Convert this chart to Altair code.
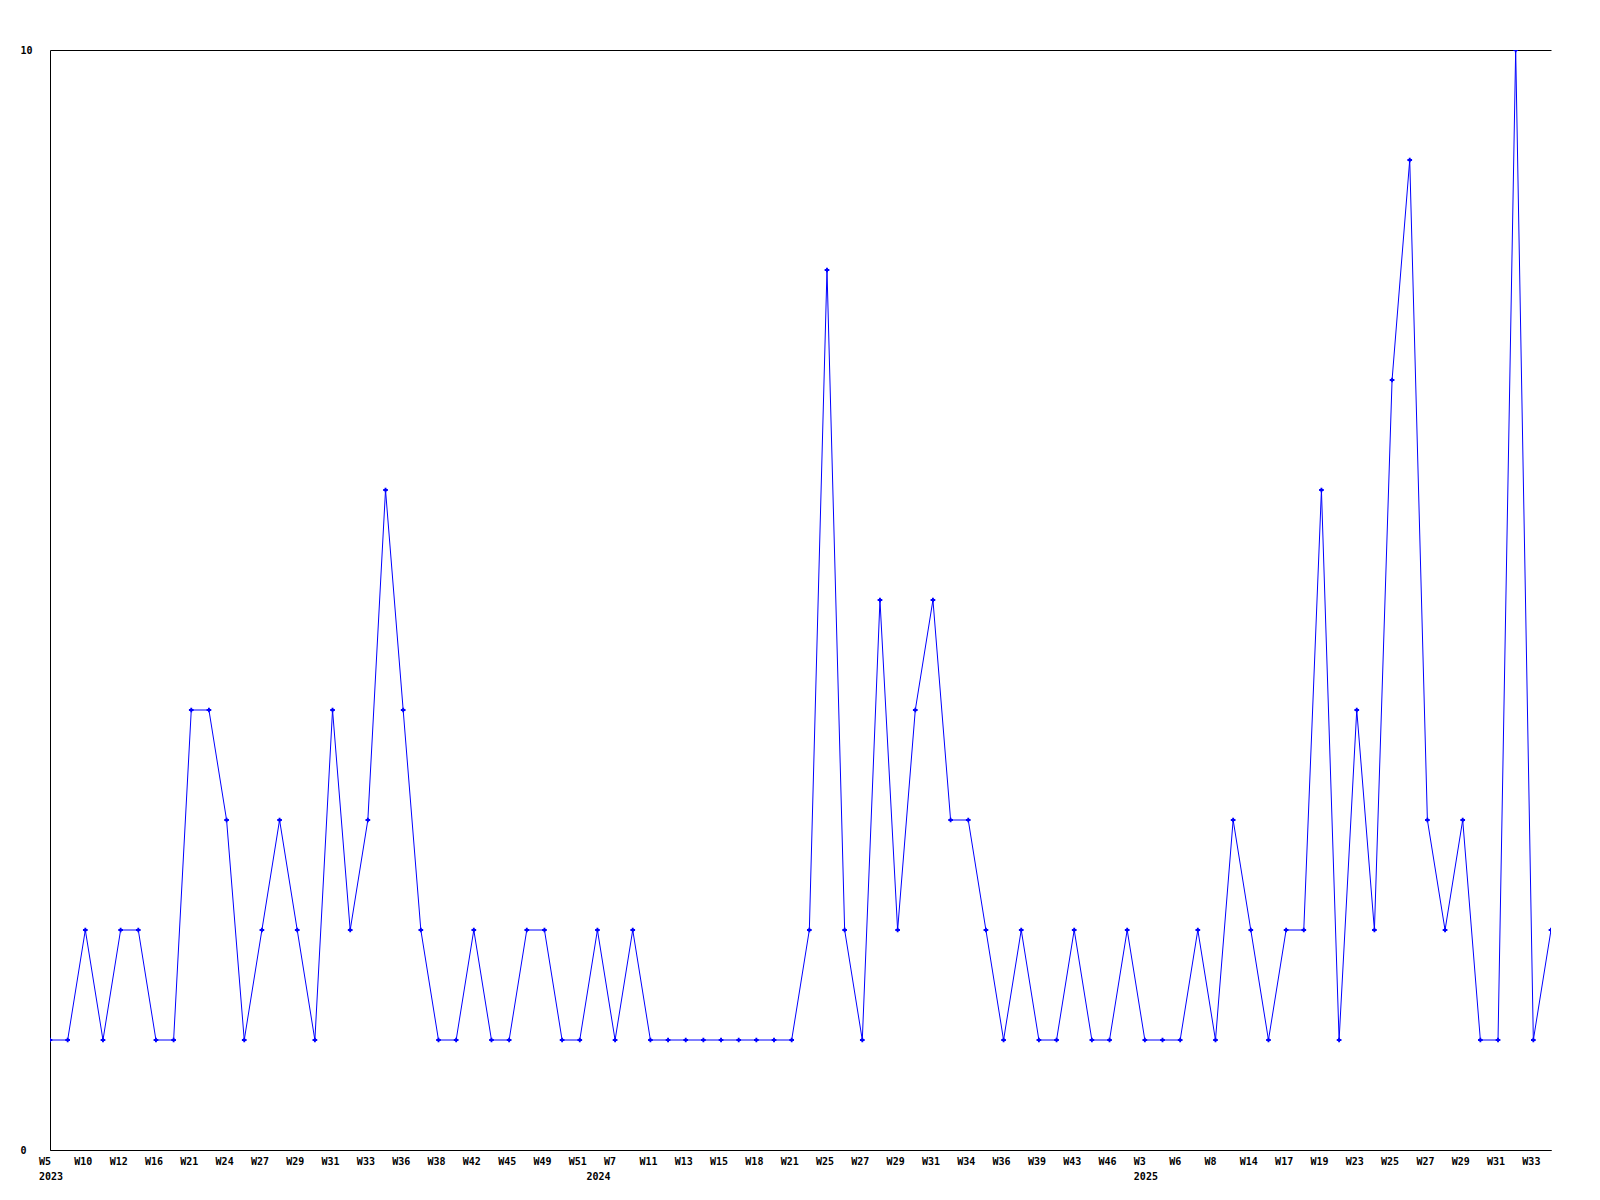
import altair as alt
import pandas as pd

# Weekly counts, one per reporting week (weeks with data only)
values = [1, 1, 2, 1, 2, 2, 1, 1, 4, 4,
          3, 1, 2, 3, 2, 1, 4, 2, 3, 6,
          4, 2, 1, 1, 2, 1, 1, 2, 2, 1,
          1, 2, 1, 2, 1, 1, 1, 1, 1, 1,
          1, 1, 1, 2, 8, 2, 1, 5, 2, 4,
          5, 3, 3, 2, 1, 2, 1, 1, 2, 1,
          1, 2, 1, 1, 1, 2, 1, 3, 2, 1,
          2, 2, 6, 1, 4, 2, 7, 9, 3, 2,
          3, 1, 1, 10, 1, 2]

# Tick labels shown on every second point
week_labels = ["W5", "W10", "W12", "W16", "W21", "W24", "W27", "W29", "W31", "W33",
               "W36", "W38", "W42", "W45", "W49", "W51",
               "W7", "W11", "W13", "W15", "W18", "W21", "W25", "W27", "W29", "W31",
               "W34", "W36", "W39", "W43", "W46",
               "W3", "W6", "W8", "W14", "W17", "W19", "W23", "W25", "W27", "W29",
               "W31", "W33"]
year_labels = ["2023", "2024", "2025"]
year_label_index = [0, 31, 62]

df = pd.DataFrame({"i": list(range(len(values))), "v": values})
wk = pd.DataFrame({"i": [2 * k for k in range(len(week_labels))], "t": week_labels})
yr = pd.DataFrame({"i": year_label_index, "t": year_labels})

W, H = 1501, 1100
FONT = "DejaVu Sans Mono"

x = alt.X("i:Q", scale=alt.Scale(domain=[0, len(values) - 1], nice=False, zero=False),
          axis=alt.Axis(labels=False, ticks=False, grid=False, title=None,
                        domainColor="black", domainWidth=1))
y = alt.Y("v:Q", scale=alt.Scale(domain=[0, 10], nice=False),
          axis=alt.Axis(values=[0, 10], format="d", ticks=False, tickSize=0, grid=True,
                        gridColor="black", gridWidth=1, gridOpacity=1,
                        domainColor="black", domainWidth=1, title=None,
                        labelAlign="left", labelPadding=30, labelFont=FONT,
                        labelFontSize=10, labelFontWeight="bold", labelColor="black"))

line = alt.Chart(df).mark_line(color="#0000ff", strokeWidth=1, clip=True).encode(x=x, y=y)
pts = alt.Chart(df).mark_point(shape="cross", filled=True, size=22, color="#0000ff",
                               opacity=1, clip=True).encode(x="i:Q", y="v:Q")

wk_text = alt.Chart(wk).mark_text(align="left", baseline="middle", dx=-11, font=FONT,
                                  fontSize=10, fontWeight="bold", color="black").encode(
    x="i:Q", y=alt.value(H + 12), text="t:N")
yr_text = alt.Chart(yr).mark_text(align="left", baseline="middle", dx=-11, font=FONT,
                                  fontSize=10, fontWeight="bold", color="black").encode(
    x="i:Q", y=alt.value(H + 27), text="t:N")

chart = alt.layer(line, pts, wk_text, yr_text).properties(
    width=W, height=H,
    background="white",
    autosize=alt.AutoSizeParams(type="none"),
    padding={"left": 42, "top": 42, "right": 20, "bottom": 50},
).configure_view(strokeWidth=0, stroke="transparent")

chart.save("out.html", embed_options={"renderer": "svg", "actions": False})
